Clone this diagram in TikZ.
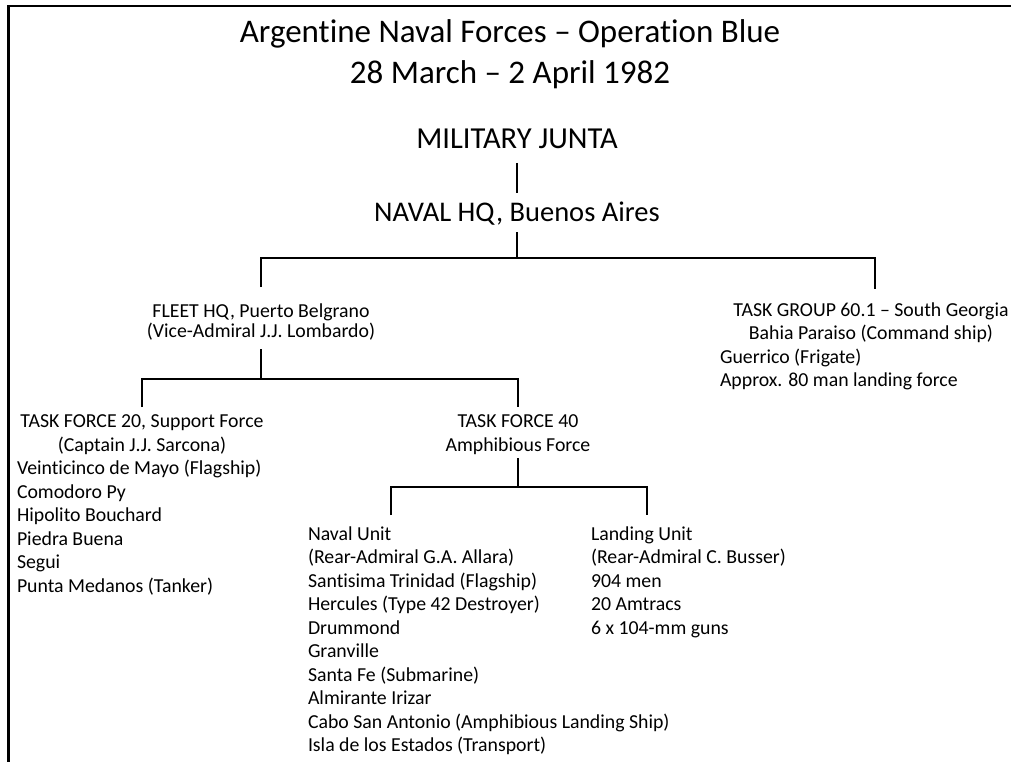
\documentclass[tikz,border=0pt]{standalone}
\usepackage{fontspec}
\setmainfont{Carlito}[Ligatures=NoCommon]
\begin{document}
\begin{tikzpicture}[x=1pt,y=-1pt,
  every node/.style={inner sep=0pt, outer sep=0pt},
  link/.style={line width=2.8pt, line join=miter, draw=black},
  frame/.style={line width=2.6pt, draw=black},
  ttl/.style={font=\fontsize{33}{41}\selectfont},
  bigA/.style={font=\fontsize{30.5}{36}\selectfont},
  bigB/.style={font=\fontsize{28.5}{34}\selectfont},
  body/.style={font=\fontsize{19.8}{23.5}\selectfont},
  tight/.style={font=\fontsize{19.8}{20}\selectfont}]
\useasboundingbox (0,0) rectangle (1011,762);
\fill[white] (0,0) rectangle (1011,762);
% frame (cropped at right and bottom)
\draw[frame] (8.5,762) -- (8.5,6) -- (1011,6);

% nodes
\node[ttl, anchor=base] (title) at (510,43)
  {\begin{tabular}[t]{@{}c@{}}Argentine Naval Forces – Operation Blue\\28 March – 2 April 1982\end{tabular}};
\node[bigA, anchor=base] (junta) at (517,149) {MILITARY JUNTA};
\node[bigB, anchor=base] (navalhq) at (517,221) {NAVAL HQ, Buenos Aires};
\node[tight, anchor=base] (fleet) at (261,317)
  {\begin{tabular}[t]{@{}c@{}}FLEET HQ, Puerto Belgrano\\(Vice-Admiral J.J. Lombardo)\end{tabular}};
\node[body, anchor=base west] (tg) at (720,316)
  {\begin{tabular}[t]{@{}p{302pt}@{}}\multicolumn{1}{@{}c@{}}{TASK GROUP 60.1 – South Georgia}\\
   \multicolumn{1}{@{}c@{}}{Bahia Paraiso (Command ship)}\\
   Guerrico (Frigate)\\
   Approx. 80 man landing force\end{tabular}};
\node[body, anchor=base west] (tf20) at (17,427.5)
  {\begin{tabular}[t]{@{}p{250pt}@{}}\multicolumn{1}{@{}c@{}}{TASK FORCE 20, Support Force}\\
   \multicolumn{1}{@{}c@{}}{(Captain J.J. Sarcona)}\\
   Veinticinco de Mayo (Flagship)\\
   Comodoro Py\\
   Hipolito Bouchard\\
   Piedra Buena\\
   Segui\\
   Punta Medanos (Tanker)\end{tabular}};
\node[body, anchor=base] (tf40) at (518,427.5)
  {\begin{tabular}[t]{@{}c@{}}TASK FORCE 40\\Amphibious Force\end{tabular}};
\node[body, anchor=base west] (naval) at (308,540)
  {\begin{tabular}[t]{@{}l@{}}Naval Unit\\
   (Rear-Admiral G.A. Allara)\\
   Santisima Trinidad (Flagship)\\
   Hercules (Type 42 Destroyer)\\
   Drummond\\
   Granville\\
   Santa Fe (Submarine)\\
   Almirante Irizar\\
   Cabo San Antonio (Amphibious Landing Ship)\\
   Isla de los Estados (Transport)\end{tabular}};
\node[body, anchor=base west] (landing) at (591,540)
  {\begin{tabular}[t]{@{}l@{}}Landing Unit\\
   (Rear-Admiral C. Busser)\\
   904 men\\
   20 Amtracs\\
   6 x 104-mm guns\end{tabular}};

% connector joints
\coordinate (j1) at (517,258);
\coordinate (j2) at (261,379);
\coordinate (j3) at (518,487);

% connectors
\draw[link] (junta.south |- 0,163) -- (navalhq.north |- 0,193);
\draw[link] (navalhq.south |- 0,232) -- (j1);
\draw[link] (fleet.north |- 0,287) -- (261,258) -- (875,258) -- (875,289);
\draw[link] (fleet.south |- 0,349) -- (j2);
\draw[link] (142,407) -- (142,379) -- (518,379) -- (tf40.north |- 0,407);
\draw[link] (tf40.south |- 0,458) -- (j3);
\draw[link] (391,515) -- (391,487) -- (647,487) -- (647,515);
\end{tikzpicture}
\end{document}
